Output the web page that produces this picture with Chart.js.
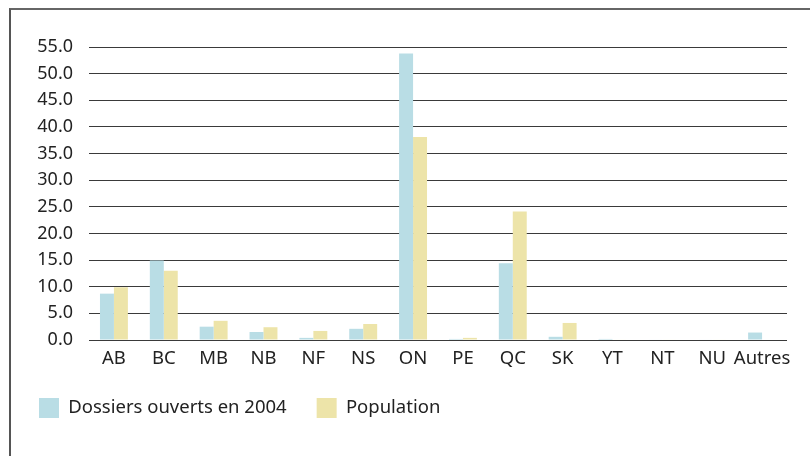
<!DOCTYPE html>
<html>
<head>
<meta charset="utf-8">
<script src="https://cdn.jsdelivr.net/npm/chart.js@4"></script>
<style>
  html, body { margin: 0; padding: 0; background: #fff; }
  #wrap { position: relative; width: 810px; height: 456px; overflow: hidden; }
  #frame { position: absolute; left: 9px; top: 8px; width: 820px; height: 460px;
           border-left: 2px solid #555; border-top: 2px solid #666; box-sizing: border-box; }
  canvas { position: absolute; left: 0; top: 0; }
</style>
</head>
<body>
<div id="wrap">
  <div id="frame"></div>
  <canvas id="chart" width="810" height="456"></canvas>
</div>
<script>
// Provinces / territories
const provinces = ['AB', 'BC', 'MB', 'NB', 'NF', 'NS', 'ON', 'PE', 'QC', 'SK', 'YT', 'NT', 'NU', 'Autres'];
// Percent of files opened in 2004
const dossiers = [8.7, 14.9, 2.5, 1.5, 0.4, 2.1, 53.8, 0.2, 14.4, 0.6, 0.2, 0.1, 0.1, 1.4];
// Percent of population
const population = [9.9, 13.0, 3.6, 2.4, 1.7, 3.0, 38.1, 0.4, 24.1, 3.2, 0.1, 0.1, 0.1, 0];

const font = "'Noto Sans', 'Open Sans', sans-serif";
const ctx = document.getElementById('chart').getContext('2d');

const chart = new Chart(ctx, {
    type: 'bar',
    data: {
        labels: provinces,
        datasets: [
            { label: 'Dossiers ouverts en 2004', data: dossiers, backgroundColor: '#b9dde5' },
            { label: 'Population', data: population, backgroundColor: '#ede4a9' }
        ]
    },
    options: {
        responsive: false,
        animation: false,
        layout: { padding: { left: 9, right: 23, top: 47, bottom: 28 } },
        datasets: { bar: { categoryPercentage: 0.56, barPercentage: 1.0 } },
        scales: {
            x: {
                grid: { display: false },
                border: { display: false },
                ticks: { color: '#222', font: { family: font, size: 18.5 }, padding: 0, maxRotation: 0, autoSkip: false },
                afterFit: s => { s.height = 28; }
            },
            y: {
                min: 0,
                max: 55,
                ticks: {
                    stepSize: 5,
                    color: '#222',
                    padding: 16,
                    font: { family: font, size: 18 },
                    callback: v => v.toFixed(1)
                },
                grid: { color: '#3a3a3a', lineWidth: 1, drawTicks: false },
                border: { display: false },
                afterFit: s => { s.width = 80; }
            }
        },
        plugins: {
            legend: {
                position: 'bottom',
                align: 'start',
                labels: {
                    color: '#222',
                    font: { family: font, size: 18.5 },
                    boxWidth: 20,
                    boxHeight: 20,
                    padding: 30
                }
            },
            tooltip: { enabled: false }
        }
    }
});
</script>
</body>
</html>
